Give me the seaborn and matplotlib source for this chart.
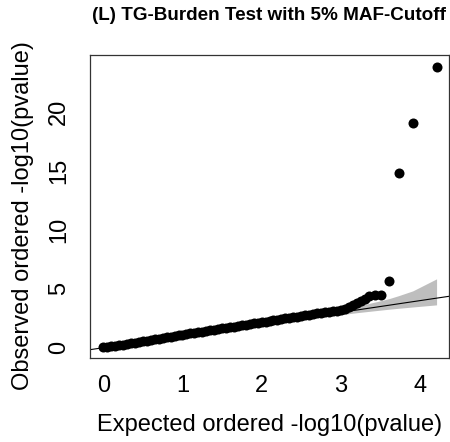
import numpy as np
import matplotlib
matplotlib.use('Agg')
import matplotlib.pyplot as plt
import seaborn as sns

# expected / observed -log10(p)
expected = [0.00, 0.05, 0.10, 0.15, 0.20, 0.25, 0.30, 0.35, 0.40, 0.45,
            0.50, 0.55, 0.60, 0.65, 0.70, 0.75, 0.80, 0.85, 0.90, 0.95,
            1.00, 1.05, 1.10, 1.15, 1.20, 1.25, 1.30, 1.35, 1.40, 1.45,
            1.50, 1.55, 1.60, 1.65, 1.70, 1.75, 1.80, 1.85, 1.90, 1.95,
            2.00, 2.05, 2.10, 2.15, 2.20, 2.25, 2.30, 2.35, 2.40, 2.45,
            2.50, 2.55, 2.60, 2.65, 2.70, 2.75, 2.80, 2.85, 2.90, 2.95,
            3.00, 3.05, 3.10, 3.15, 3.20, 3.25, 3.31, 3.36, 3.43, 3.51,
            3.61, 3.73, 3.91, 4.21]
observed = [0.02, 0.06, 0.11, 0.16, 0.22, 0.27, 0.33, 0.38, 0.44, 0.49,
            0.55, 0.60, 0.66, 0.71, 0.77, 0.82, 0.88, 0.93, 0.99, 1.04,
            1.10, 1.15, 1.21, 1.26, 1.32, 1.37, 1.42, 1.48, 1.53, 1.58,
            1.64, 1.69, 1.74, 1.80, 1.85, 1.91, 1.96, 2.01, 2.07, 2.12,
            2.17, 2.22, 2.28, 2.33, 2.38, 2.44, 2.49, 2.54, 2.59, 2.65,
            2.70, 2.75, 2.80, 2.85, 2.91, 2.96, 3.00, 3.03, 3.08, 3.14,
            3.22, 3.32, 3.45, 3.62, 3.80, 3.98, 4.15, 4.42, 4.47, 4.50,
            5.64, 14.84, 19.09, 23.87]

# 95% confidence band around the null
band_x = [0.00, 1.00, 1.71, 2.21, 2.73, 3.21, 3.51, 3.61, 3.73, 3.91, 4.21]
band_lo = [0.00, 0.98, 1.665, 2.125, 2.58, 2.98, 3.20, 3.27, 3.35, 3.46, 3.64]
band_hi = [0.00, 1.022, 1.76, 2.30, 2.90, 3.53, 4.00, 4.17, 4.42, 4.83, 5.85]

title = '(L) TG-Burden Test with 5% MAF-Cutoff'

sns.set_theme(style='white')
plt.rcParams['font.family'] = ['Liberation Sans', 'DejaVu Sans']
plt.rcParams['text.color'] = 'black'
plt.rcParams['axes.labelcolor'] = 'black'

fig = plt.figure(figsize=(4.5, 4.42), dpi=100)
ax = fig.add_axes([90 / 450, 1 - 358 / 442, 359 / 450, 303 / 442])

ax.fill_between(band_x, band_lo, band_hi, color='#bebebe', linewidth=0, zorder=1)
ax.axline((0, 0), slope=1, color='black', linewidth=0.8, zorder=2)
sns.scatterplot(x=expected, y=observed, ax=ax, color='black', s=52,
                linewidth=0, zorder=3)

ax.set_xlim(-0.168, 4.367)
ax.set_ylim(-0.875, 24.87)
ax.set_xticks([0, 1, 2, 3, 4])
ax.set_yticks([0, 5, 10, 15, 20])
ax.set_yticklabels(['0', '5', '10', '15', '20'], rotation=90, va='center')

for s in ax.spines.values():
    s.set_color('#333333')
    s.set_linewidth(0.9)
ax.tick_params(axis='both', direction='out', length=7, width=0.8,
               color='#333333', labelsize=17, labelcolor='black')
ax.tick_params(axis='x', pad=5.5)
ax.tick_params(axis='y', pad=7.5)

ax.set_xlabel('Expected ordered -log10(pvalue)', fontsize=17)
ax.set_ylabel('Observed ordered -log10(pvalue)', fontsize=17)
ax.xaxis.set_label_coords(0.5, (358 - 425) / 303)
ax.xaxis.label.set_va('center')
ax.yaxis.set_label_coords((23 - 90) / 359, (358 - 216) / 303)
ax.yaxis.label.set_va('center')

fig.text(269.5 / 450, 1 - 15 / 442, title, ha='center', va='center',
         fontsize=13.6, fontweight='bold', color='black')

fig.savefig('out.png', dpi=100)
